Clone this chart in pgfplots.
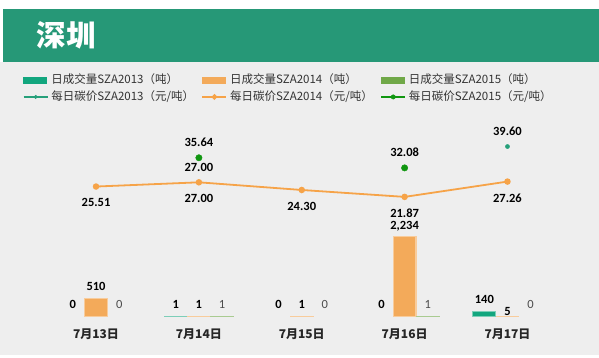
\documentclass[border=0pt]{standalone}
\usepackage{pgfplots}
\pgfplotsset{compat=1.18}
\usepackage{fontspec}
\setmainfont{Noto Sans CJK SC}
\newfontfamily\lab{Carlito}
\definecolor{band}{RGB}{38,152,119}
\definecolor{bg}{RGB}{238,238,238}
\definecolor{c13}{RGB}{18,166,126}
\definecolor{c14}{RGB}{243,170,90}
\definecolor{c15}{RGB}{112,168,72}
\definecolor{p13}{RGB}{38,160,122}
\definecolor{p14}{RGB}{246,163,72}
\definecolor{p15}{RGB}{16,150,16}
\begin{document}
\begin{tikzpicture}
\useasboundingbox (0bp,0bp) rectangle (599bp,358bp);
\fill[bg] (0bp,3bp) rectangle (599bp,296bp);
\fill[band] (2.5bp,296bp) rectangle (599bp,349bp);
\node[anchor=west, text=white, font=\fontsize{29.5bp}{30bp}\selectfont\bfseries, inner sep=0pt] at (36.5bp,323bp) {深圳};
% ---------- bars ----------
\begin{axis}[
  at={(44.6bp,41.5bp)}, anchor=south west,
  scale only axis, width=514.3bp, height=206bp,
  xmin=-0.5, xmax=4.5, ymin=0, ymax=5750,
  axis line style={draw=none}, tick style={draw=none},
  ytick=\empty,
  xtick={0,1,2,3,4}, xticklabels={7月13日,7月14日,7月15日,7月16日,7月17日},
  xticklabel style={font=\fontsize{12bp}{14bp}\selectfont\bfseries, text=black!85, yshift=-8.5bp},
  clip=false,
  nodes near coords style={anchor=south, yshift=4.3bp, font=\fontsize{12.5bp}{14bp}\selectfont, text=black, inner sep=2pt},
]
\addplot[ybar, bar width=0.222, bar shift=0pt, fill=c13, draw=c13!55, line width=1.1bp] coordinates {(0.775,1) (3.775,140)};
\addplot[ybar, bar width=0.222, bar shift=0pt, fill=c14, draw=c14!60, line width=1.1bp] coordinates {(1,1) (2,1) (3,2234) (0,510) (4,5)};
\addplot[ybar, bar width=0.222, bar shift=0pt, fill=c15, draw=c15!60, line width=1.1bp] coordinates {(1.225,1) (3.225,1)};
% labels
\addplot[draw=none, mark=none, nodes near coords={\lab\bfseries\pgfmathprintnumber[fixed,precision=0,assume math mode=true]{\pgfplotspointmeta}}, nodes near coords style={yshift=1.6bp}] coordinates {(-0.225,0) (0.775,1) (1.775,0) (2.775,0) (3.775,140)};
\addplot[draw=none, mark=none, nodes near coords={\lab\bfseries\pgfmathprintnumber[fixed,precision=0,1000 sep={,},assume math mode=true]{\pgfplotspointmeta}}, nodes near coords style={yshift=1.6bp}] coordinates {(0,510) (1,1) (2,1)};
\addplot[draw=none, mark=none, nodes near coords={\lab\bfseries\pgfmathprintnumber[fixed,precision=0,1000 sep={,},assume math mode=true]{\pgfplotspointmeta}}, nodes near coords style={yshift=-1.5bp}] coordinates {(3,2234)};
\addplot[draw=none, mark=none, nodes near coords={\lab\bfseries\pgfmathprintnumber[fixed,precision=0,assume math mode=true]{\pgfplotspointmeta}}, nodes near coords style={yshift=-5.4bp}] coordinates {(4,5)};
\addplot[draw=none, mark=none, nodes near coords={\lab\pgfmathprintnumber[fixed,precision=0,assume math mode=true]{\pgfplotspointmeta}}, nodes near coords style={text=black!70, yshift=1.6bp}] coordinates {(0.225,0) (1.225,1) (2.225,0) (3.225,1) (4.225,0)};
\end{axis}
% ---------- prices ----------
\begin{axis}[
  at={(44.6bp,41.5bp)}, anchor=south west,
  scale only axis, width=514.3bp, height=206bp,
  xmin=-0.5, xmax=4.5, ymin=-20.25, ymax=52.29,
  hide axis, clip=false,
  legend columns=3,
  legend style={at={(-0.042,1.1835)}, anchor=north west, draw=none, fill=none,
    inner sep=0pt, outer sep=0pt, row sep=2.5bp, column sep=0pt,
    font=\fontsize{11.5bp}{13bp}\selectfont, text=black!80,
    nodes={inner sep=1.5bp, text height=9bp, text depth=2.5bp},
    /tikz/every odd column/.append style={column sep=1.5bp}},
  legend cell align=left,
  nodes near coords={\lab\bfseries\pgfmathprintnumber[fixed,zerofill,precision=2,assume math mode=true]{\pgfplotspointmeta}},
  nodes near coords style={font=\fontsize{12.5bp}{14bp}\selectfont, text=black, inner sep=2pt},
]
\addlegendimage{legend image code/.code={\fill[c13] (0bp,-3bp) rectangle (23bp,3bp);}}
\addlegendentry{\makebox[149bp][l]{日成交量SZA2013（吨）}}
\addlegendimage{legend image code/.code={\fill[c14] (0bp,-3bp) rectangle (23bp,3bp);}}
\addlegendentry{\makebox[149bp][l]{日成交量SZA2014（吨）}}
\addlegendimage{legend image code/.code={\fill[c15] (0bp,-3bp) rectangle (23bp,3bp);}}
\addlegendentry{\makebox[149bp][l]{日成交量SZA2015（吨）}}
\addplot[only marks, mark=*, mark size=2.1bp, color=p13,
  nodes near coords style={anchor=south, yshift=9bp},
  legend image code/.code={\draw[p13, line width=1.3bp] (0bp,0bp) -- (24bp,0bp); \fill[p13] (12bp,0bp) circle (1.8bp);}]
  coordinates {(1,27.00) (4,39.60)};
\addlegendentry{\makebox[149bp][l]{每日碳价SZA2013（元/吨）}}
\addplot[color=p14, line width=1.8bp, mark=*, mark size=2.3bp, mark options={solid},
  nodes near coords style={anchor=north, yshift=-9.2bp},
  legend image code/.code={\draw[p14, line width=1.3bp] (0bp,0bp) -- (24bp,0bp); \fill[p14] (12bp,0bp) circle (1.8bp);}]
  coordinates {(0,25.51) (1,27.00) (2,24.30) (3,21.87) (4,27.26)};
\addlegendentry{\makebox[149bp][l]{每日碳价SZA2014（元/吨）}}
\addplot[only marks, mark=*, mark size=3.2bp, color=p15,
  nodes near coords style={anchor=south, yshift=9bp},
  legend image code/.code={\draw[p15, line width=1.3bp] (0bp,0bp) -- (24bp,0bp); \fill[p15] (12bp,0bp) circle (2.2bp);}]
  coordinates {(1,35.64) (3,32.08)};
\addlegendentry{\makebox[149bp][l]{每日碳价SZA2015（元/吨）}}
\end{axis}
\end{tikzpicture}
\end{document}
